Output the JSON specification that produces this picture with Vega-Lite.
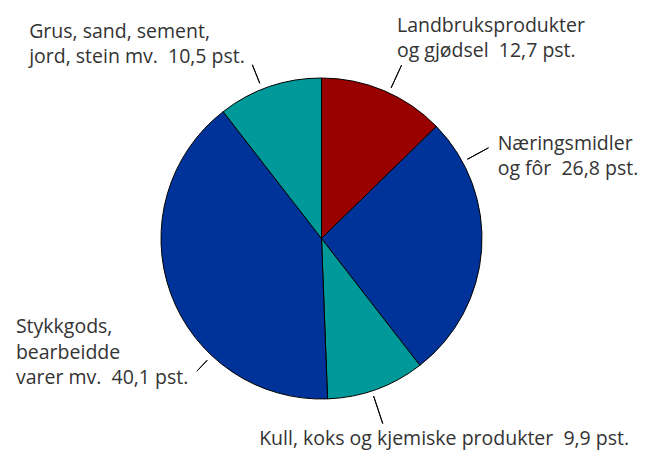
{
  "$schema": "https://vega.github.io/schema/vega-lite/v6.json",
  "width": 321,
  "height": 321,
  "autosize": {"type": "none"},
  "padding": {"left": 161, "top": 78, "right": 163, "bottom": 53},
  "background": "#ffffff",
  "config": {"view": {"stroke": null}},
  "data": {
    "values": [
      {"label": "Landbruksprodukter", "value": 12.7, "text": "Landbruksprodukter\nog gjødsel\u00a0\u00a012,7 pst."},
      {"label": "Næringsmidler", "value": 26.8, "text": "Næringsmidler\nog fôr\u00a0\u00a026,8 pst."},
      {"label": "Kull", "value": 9.9, "text": "Kull, koks og kjemiske produkter\u00a0\u00a09,9 pst."},
      {"label": "Stykkgods", "value": 40.1, "text": "Stykkgods,\nbearbeidde\nvarer mv.\u00a0\u00a040,1 pst."},
      {"label": "Grus", "value": 10.5, "text": "Grus, sand, sement,\njord, stein mv.\u00a0\u00a010,5 pst."}
    ]
  },
  "transform": [{"stack": "value", "groupby": [], "as": ["v0", "v1"]}],
  "layer": [
    {
      "mark": {"type": "arc", "stroke": "#000000", "strokeWidth": 1},
      "encoding": {
        "theta": {"field": "v0", "type": "quantitative", "stack": null, "scale": {"domain": [0, 100]}},
        "theta2": {"field": "v1"},
        "color": {
          "field": "label", "type": "nominal", "legend": null,
          "scale": {
            "domain": ["Landbruksprodukter", "Næringsmidler", "Kull", "Stykkgods", "Grus"],
            "range": ["#990000", "#003399", "#009999", "#003399", "#009999"]
          }
        }
      }
    },
    {
      "transform": [{"filter": "datum.label == 'Landbruksprodukter'"}],
      "layer": [
        {
          "mark": {"type": "arc", "fill": "#000000", "stroke": "#000000", "strokeWidth": 1, "innerRadius": 166, "outerRadius": 191, "thetaOffset": 0.4328, "theta2Offset": 0.4328},
          "encoding": {"theta": {"field": "v0", "type": "quantitative", "stack": null}, "theta2": {"field": "v0"}}
        },
        {
          "mark": {"type": "text", "align": "left", "baseline": "alphabetic", "font": "Open Sans", "fontSize": 19.5, "lineHeight": 25, "lineBreak": "\n", "color": "#333333", "radius": 219.6, "thetaOffset": 0.3508},
          "encoding": {"theta": {"field": "v0", "type": "quantitative", "stack": null}, "text": {"field": "text"}}
        }
      ]
    },
    {
      "transform": [{"filter": "datum.label == 'Næringsmidler'"}],
      "layer": [
        {
          "mark": {"type": "arc", "fill": "#000000", "stroke": "#000000", "strokeWidth": 1, "innerRadius": 166, "outerRadius": 190, "thetaOffset": 0.2754, "theta2Offset": 0.2754},
          "encoding": {"theta": {"field": "v0", "type": "quantitative", "stack": null}, "theta2": {"field": "v0"}}
        },
        {
          "mark": {"type": "text", "align": "left", "baseline": "alphabetic", "font": "Open Sans", "fontSize": 19.5, "lineHeight": 25, "lineBreak": "\n", "color": "#333333", "radius": 197.2, "thetaOffset": 0.3068},
          "encoding": {"theta": {"field": "v0", "type": "quantitative", "stack": null}, "text": {"field": "text"}}
        }
      ]
    },
    {
      "transform": [{"filter": "datum.label == 'Kull'"}],
      "layer": [
        {
          "mark": {"type": "arc", "fill": "#000000", "stroke": "#000000", "strokeWidth": 1, "innerRadius": 166, "outerRadius": 195, "thetaOffset": 0.3403, "theta2Offset": 0.3403},
          "encoding": {"theta": {"field": "v0", "type": "quantitative", "stack": null}, "theta2": {"field": "v0"}}
        },
        {
          "mark": {"type": "text", "align": "left", "baseline": "alphabetic", "font": "Open Sans", "fontSize": 19.5, "lineHeight": 25, "lineBreak": "\n", "color": "#333333", "radius": 215.7, "thetaOffset": 0.9529},
          "encoding": {"theta": {"field": "v0", "type": "quantitative", "stack": null}, "text": {"field": "text"}}
        }
      ]
    },
    {
      "transform": [{"filter": "datum.label == 'Stykkgods'"}],
      "layer": [
        {
          "mark": {"type": "arc", "fill": "#000000", "stroke": "#000000", "strokeWidth": 1, "innerRadius": 167, "outerRadius": 182, "thetaOffset": 0.7917, "theta2Offset": 0.7917},
          "encoding": {"theta": {"field": "v0", "type": "quantitative", "stack": null}, "theta2": {"field": "v0"}}
        },
        {
          "mark": {"type": "text", "align": "left", "baseline": "alphabetic", "font": "Open Sans", "fontSize": 19.5, "lineHeight": 25.5, "lineBreak": "\n", "color": "#333333", "radius": 319.9, "thetaOffset": 1.3083},
          "encoding": {"theta": {"field": "v0", "type": "quantitative", "stack": null}, "text": {"field": "text"}}
        }
      ]
    },
    {
      "transform": [{"filter": "datum.label == 'Grus'"}],
      "layer": [
        {
          "mark": {"type": "arc", "fill": "#000000", "stroke": "#000000", "strokeWidth": 1, "innerRadius": 167, "outerRadius": 187, "thetaOffset": 0.2810, "theta2Offset": 0.2810},
          "encoding": {"theta": {"field": "v0", "type": "quantitative", "stack": null}, "theta2": {"field": "v0"}}
        },
        {
          "mark": {"type": "text", "align": "left", "baseline": "alphabetic", "font": "Open Sans", "fontSize": 19.5, "lineHeight": 24.5, "lineBreak": "\n", "color": "#333333", "radius": 354.3, "thetaOffset": -0.3107},
          "encoding": {"theta": {"field": "v0", "type": "quantitative", "stack": null}, "text": {"field": "text"}}
        }
      ]
    }
  ]
}
